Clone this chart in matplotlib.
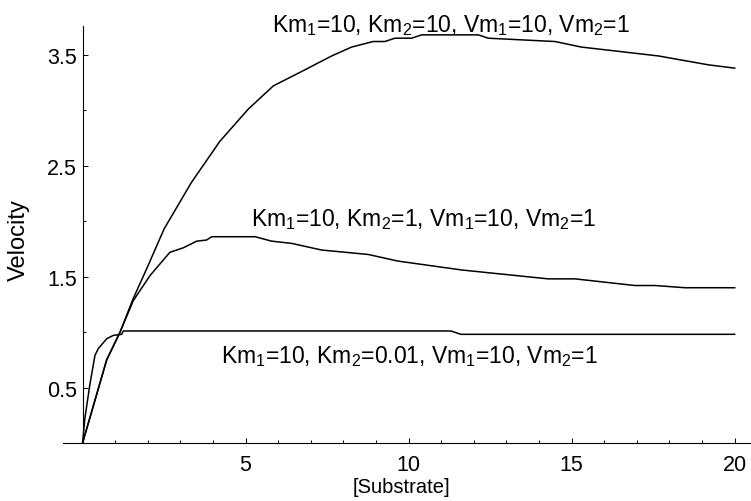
import matplotlib
matplotlib.use('Agg')
import matplotlib.pyplot as plt
from matplotlib.ticker import FixedLocator

plt.rcParams['font.family'] = ['Liberation Sans', 'DejaVu Sans']
plt.rcParams['mathtext.fontset'] = 'custom'
plt.rcParams['mathtext.rm'] = 'Liberation Sans'
plt.rcParams['mathtext.it'] = 'Liberation Sans:italic'
plt.rcParams['mathtext.default'] = 'rm'

### Data ###

# Km2 = 10
s_km2_10 = [0, 0.74, 1.15, 1.55, 2.01, 2.5, 3.34, 4.21, 5.08, 5.85, 6.72, 7.64, 8.25,
            8.91, 9.27, 9.58, 10.09, 10.4, 12.14, 12.44, 14.49, 15.3, 17.66, 19.19, 20]
v_km2_10 = [0, 0.75, 1.0, 1.30, 1.60, 1.93, 2.35, 2.72, 3.01, 3.22, 3.35, 3.49, 3.57,
            3.62, 3.62, 3.65, 3.65, 3.68, 3.68, 3.65, 3.62, 3.57, 3.49, 3.41, 3.38]

# Km2 = 1
s_km2_1 = [0, 0.74, 1.15, 1.55, 1.66, 2.07, 2.68, 3.09, 3.5, 3.8, 3.96, 5.29, 5.8, 6.41,
           7.33, 8.76, 9.68, 11.63, 14.28, 15.1, 16.94, 17.56, 18.48, 20]
v_km2_1 = [0, 0.75, 1.0, 1.28, 1.33, 1.51, 1.72, 1.76, 1.82, 1.83, 1.86, 1.86, 1.82, 1.80,
           1.74, 1.70, 1.64, 1.56, 1.48, 1.48, 1.42, 1.42, 1.40, 1.40]

# Km2 = 0.01
s_km2_001 = [0, 0.07, 0.22, 0.38, 0.48, 0.74, 0.94, 1.2, 1.25, 11.3, 11.6, 20]
v_km2_001 = [0, 0.22, 0.52, 0.79, 0.85, 0.94, 0.97, 0.98, 1.01, 1.01, 0.98, 0.98]

labels = ['Km$_1$=10, Km$_2$=10, Vm$_1$=10, Vm$_2$=1',
          'Km$_1$=10, Km$_2$=1, Vm$_1$=10, Vm$_2$=1',
          'Km$_1$=10, Km$_2$=0.01, Vm$_1$=10, Vm$_2$=1']
label_pos = [(11.3, 3.715), (10.46, 1.964), (10.03, 0.73)]

x_major = [5, 10, 15, 20]
x_minor = list(range(1, 21))
y_major = [0.5, 1.5, 2.5, 3.5]
y_minor = [1, 2, 3]

### Plotting ###

fig = plt.figure(figsize=(7.51, 5.02), dpi=100)
ax = fig.add_axes([63 / 751, 58 / 502, 688 / 751, 417 / 502])

for s, v in [(s_km2_10, v_km2_10), (s_km2_1, v_km2_1), (s_km2_001, v_km2_001)]:
    ax.plot(s, v, color='black', linewidth=1.1, solid_joinstyle='round')

for text, (tx, ty) in zip(labels, label_pos):
    ax.text(tx, ty, text, ha='center', va='baseline', fontsize=16.5)

ax.set_xlim(-0.6, 20.5)
ax.set_ylim(0, 3.76)

ax.spines['top'].set_visible(False)
ax.spines['right'].set_visible(False)
ax.spines['left'].set_position(('data', 0))
ax.spines['left'].set_linewidth(0.8)
ax.spines['bottom'].set_linewidth(0.8)

ax.xaxis.set_major_locator(FixedLocator(x_major))
ax.xaxis.set_minor_locator(FixedLocator(x_minor))
ax.yaxis.set_major_locator(FixedLocator(y_major))
ax.yaxis.set_minor_locator(FixedLocator(y_minor))
ax.tick_params(which='both', direction='in', width=0.7)
ax.tick_params(which='major', length=3.5, labelsize=15.5)
ax.tick_params(which='minor', length=2.5)
ax.tick_params(axis='x', which='major', pad=8)
ax.tick_params(axis='y', which='major', pad=4)

ax.set_xlabel('[Substrate]', fontsize=14.5)
ax.set_ylabel('Velocity', fontsize=17)
ax.xaxis.set_label_coords(0.4915, -0.0815)
ax.yaxis.set_label_coords(-0.048, 0.49)

fig.savefig('out.png', dpi=100)
